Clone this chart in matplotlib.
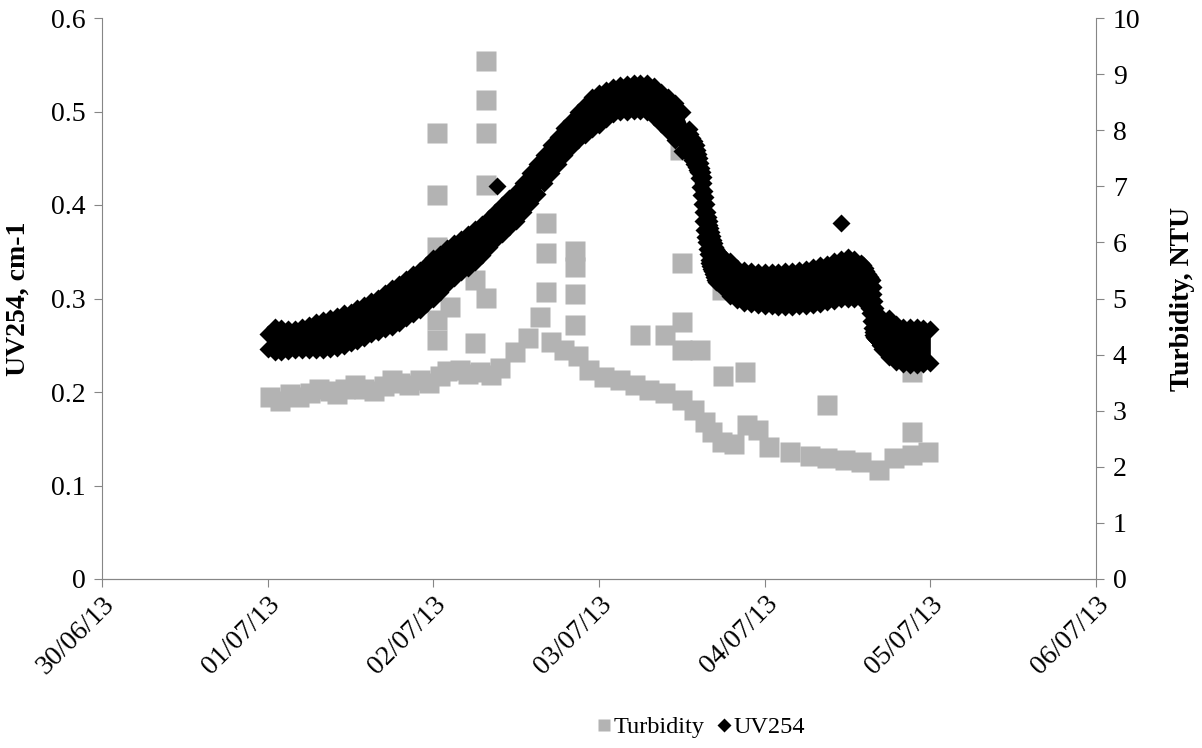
#!/usr/bin/env python3
import datetime as dt

import matplotlib

matplotlib.use("Agg")
import matplotlib.pyplot as plt
import matplotlib.dates as mdates
from matplotlib.lines import Line2D

plt.rcParams["font.family"] = ["Liberation Serif", "DejaVu Serif"]

START = dt.datetime(2013, 7, 1)

# UV254 band: hours after 01/07/13 00:00, upper and lower edge of the scatter (cm-1)
uv_hours = list(range(0, 61)) + [
    61, 61.25, 61.5, 61.75, 62,
    62.25, 62.375, 62.5, 62.625, 62.75, 62.875, 63, 63.125, 63.25, 63.375, 63.5,
    63.625, 63.75, 63.875, 64, 64.125, 64.25, 64.375, 64.5, 64.625, 64.75,
    65, 65.25, 65.5, 65.75,
] + list(range(66, 86)) + [
    86, 86.25, 86.5, 86.75, 87, 87.125, 87.25, 87.375, 87.5, 87.625, 87.75,
    87.875, 88, 88.125, 88.25, 88.5, 88.75,
] + list(range(89, 97))
uv_upper = [
    0.262, 0.269, 0.268, 0.267, 0.267, 0.269, 0.272, 0.275, 0.277, 0.279,
    0.281, 0.284, 0.286, 0.290, 0.293, 0.297, 0.301, 0.306, 0.311, 0.315,
    0.321, 0.326, 0.331, 0.336, 0.343, 0.348, 0.354, 0.359, 0.364, 0.369,
    0.374, 0.380, 0.386, 0.392, 0.400, 0.407, 0.414, 0.424, 0.434, 0.444,
    0.454, 0.464, 0.473, 0.482, 0.490, 0.499, 0.507, 0.515, 0.520, 0.523,
    0.526, 0.528, 0.529, 0.530, 0.531, 0.530, 0.527, 0.521, 0.515, 0.509,
    0.499,
    0.481, 0.476, 0.472, 0.468, 0.464,
    0.459, 0.455, 0.450, 0.445, 0.440, 0.435, 0.430, 0.423, 0.415, 0.409, 0.401,
    0.393, 0.387, 0.383, 0.379, 0.375, 0.371, 0.367, 0.363, 0.359, 0.355,
    0.353, 0.350, 0.348, 0.345,
    0.343, 0.340, 0.333, 0.331, 0.329, 0.328, 0.328, 0.328, 0.328, 0.329,
    0.329, 0.331, 0.332, 0.334, 0.336, 0.337, 0.340, 0.342, 0.344, 0.342,
    0.338, 0.336, 0.333, 0.329, 0.326, 0.324, 0.323, 0.321, 0.320, 0.312, 0.305,
    0.297, 0.290, 0.285, 0.281, 0.280, 0.280,
    0.279, 0.279, 0.273, 0.269, 0.269, 0.270, 0.268, 0.267,
]
uv_lower = [
    0.246, 0.243, 0.243, 0.244, 0.245, 0.245, 0.245, 0.245, 0.245, 0.246,
    0.247, 0.249, 0.252, 0.255, 0.258, 0.262, 0.264, 0.267, 0.270, 0.274,
    0.279, 0.283, 0.288, 0.294, 0.300, 0.307, 0.315, 0.322, 0.328, 0.333,
    0.339, 0.347, 0.355, 0.363, 0.369, 0.376, 0.383, 0.392, 0.402, 0.412,
    0.423, 0.434, 0.444, 0.453, 0.462, 0.469, 0.475, 0.481, 0.486, 0.492,
    0.497, 0.499, 0.500, 0.501, 0.501, 0.499, 0.494, 0.487, 0.479, 0.469,
    0.458,
    0.455, 0.452, 0.448, 0.444, 0.441,
    0.437, 0.435, 0.429, 0.419, 0.411, 0.401, 0.393, 0.383, 0.373, 0.366, 0.360,
    0.353, 0.348, 0.341, 0.338, 0.335, 0.332, 0.329, 0.326, 0.323, 0.320,
    0.318, 0.317, 0.315, 0.313,
    0.311, 0.303, 0.298, 0.295, 0.294, 0.293, 0.292, 0.292, 0.291, 0.291,
    0.291, 0.292, 0.292, 0.293, 0.294, 0.296, 0.297, 0.300, 0.300, 0.299,
    0.299, 0.299, 0.297, 0.296, 0.295, 0.290, 0.284, 0.276, 0.268, 0.264, 0.261,
    0.259, 0.258, 0.257, 0.256, 0.253, 0.250,
    0.246, 0.237, 0.232, 0.230, 0.229, 0.229, 0.230, 0.231,
]
uv_outlier_hours = [33.2, 83.0]
uv_outlier_values = [0.420, 0.381]

# Turbidity readings (NTU)
turb_hours = [
    0.3, 1.8, 3.2, 4.6, 6.1, 7.5, 9.0, 10.1, 11.2, 12.6, 14.0, 15.4, 16.9, 18.0,
    19.1, 20.5, 22.0, 23.3, 24.5, 24.5, 24.5, 24.5, 24.5, 24.9, 26.0, 26.4, 27.8,
    29.0, 30.0, 30.1, 30.7, 31.7, 31.7, 31.7, 31.7, 31.7, 32.4, 33.6, 35.8, 37.7,
    39.4, 40.3, 40.3, 40.3, 41.1, 43.0, 44.5, 44.5, 44.5, 44.5, 44.9, 46.6, 48.7,
    51.0, 53.2, 53.9, 55.3, 57.5, 57.5, 59.7, 60.0, 60.0, 60.0, 60.0, 61.8, 62.6,
    63.3, 64.3, 65.8, 65.8, 65.9, 67.6, 69.2, 69.5, 71.0, 72.7, 75.6, 78.5, 81.0,
    81.1, 83.6, 86.0, 88.6, 90.8, 93.3, 93.4, 93.4, 95.6,
]
turb_ntu = [
    3.24, 3.18, 3.30, 3.25, 3.32, 3.38, 3.35, 3.30, 3.39, 3.45, 3.39, 3.36, 3.44, 3.55,
    3.49, 3.45, 3.55, 3.50, 7.95, 6.84, 5.92, 4.62, 4.26, 3.62, 3.70, 4.85, 3.73,
    3.66, 5.33, 4.21, 3.69, 9.23, 8.54, 7.95, 7.02, 5.01, 3.64, 3.76, 4.05, 4.30,
    4.67, 6.35, 5.81, 5.12, 4.22, 4.08, 5.85, 5.56, 5.08, 4.53, 3.97, 3.73, 3.60,
    3.55, 3.46, 4.35, 3.37, 4.35, 3.32, 7.65, 5.63, 4.58, 4.08, 3.19, 3.01, 4.08,
    2.80, 2.62, 5.15, 2.44, 3.62, 2.41, 3.69, 2.75, 2.66, 2.35, 2.26, 2.19, 3.10,
    2.16, 2.12, 2.09, 1.94, 2.16, 2.21, 3.69, 2.62, 2.26,
]

uv_ticks = [0, 0.1, 0.2, 0.3, 0.4, 0.5, 0.6]
uv_tick_labels = ["0", "0.1", "0.2", "0.3", "0.4", "0.5", "0.6"]
turb_ticks = list(range(0, 11))

GREY = "#B3B3B3"
AXIS = "#868686"
TICK_FS = 20
LEGEND_FS = 17.5


def to_dates(hours):
    return [START + dt.timedelta(hours=h) for h in hours]


def main() -> None:
    assert len(uv_hours) == len(uv_upper) == len(uv_lower)
    assert len(turb_hours) == len(turb_ntu)

    fig = plt.figure(figsize=(12.02, 7.48), dpi=100)
    ax = fig.add_axes([102 / 1202, 1 - 579 / 748, 994 / 1202, 561 / 748])
    ax2 = ax.twinx()
    # UV254 on the left axis, drawn over the turbidity squares
    ax.set_zorder(ax2.get_zorder() + 1)
    ax.patch.set_visible(False)

    ax2.plot(to_dates(turb_hours), turb_ntu, ls="none", marker="s", ms=13.7,
             color=GREY, mec="none")

    uv_dates = to_dates(uv_hours)
    ax.fill_between(uv_dates, uv_lower, uv_upper, color="black", lw=0)
    for vals in (uv_upper, uv_lower):
        ax.plot(uv_dates, vals, ls="none", marker="D", ms=9.6, color="black", mec="none")
    ax.plot(to_dates(uv_outlier_hours), uv_outlier_values, ls="none", marker="D",
            ms=9.6, color="black", mec="none")

    ax.set_xlim(dt.datetime(2013, 6, 30), dt.datetime(2013, 7, 6))
    ax.xaxis.set_major_locator(mdates.DayLocator())
    ax.xaxis.set_major_formatter(mdates.DateFormatter("%d/%m/%y"))
    ax.set_ylim(0, 0.6)
    ax.set_yticks(uv_ticks)
    ax.set_yticklabels(uv_tick_labels)
    ax2.set_ylim(0, 10)
    ax2.set_yticks(turb_ticks)

    for a in (ax, ax2):
        a.spines["top"].set_visible(False)
        for s in ("left", "right", "bottom"):
            a.spines[s].set_color(AXIS)
        a.tick_params(direction="out", length=6, color=AXIS, labelsize=TICK_FS,
                      labelcolor="black")
    ax.spines["right"].set_visible(False)
    ax2.spines["left"].set_visible(False)
    ax.tick_params(axis="y", pad=6)
    ax2.tick_params(axis="y", pad=6)
    ax.tick_params(axis="x", pad=3)

    for lab in ax.get_xticklabels():
        lab.set_rotation(45)
        lab.set_ha("right")
        lab.set_va("top")
        lab.set_rotation_mode("anchor")

    ax.set_ylabel("UV254, cm-1", fontsize=TICK_FS, fontweight="bold")
    ax.yaxis.set_label_coords(-0.072, 0.5)
    ax2.set_ylabel("Turbidity, NTU", fontsize=TICK_FS, fontweight="bold", rotation=90)
    ax2.yaxis.set_label_coords(1.074, 0.5)

    handles = [
        Line2D([], [], ls="none", marker="s", ms=9, color=GREY, mec="none"),
        Line2D([], [], ls="none", marker="D", ms=7, color="black", mec="none"),
    ]
    fig.legend(handles, ["Turbidity", "UV254"], loc="center",
               bbox_to_anchor=(701 / 1202, 1 - 727 / 748), ncol=2, frameon=False,
               fontsize=LEGEND_FS, handlelength=0.6, handletextpad=0.1, columnspacing=0.5)

    fig.savefig("out.png", dpi=100)
    plt.close(fig)


if __name__ == "__main__":
    main()
